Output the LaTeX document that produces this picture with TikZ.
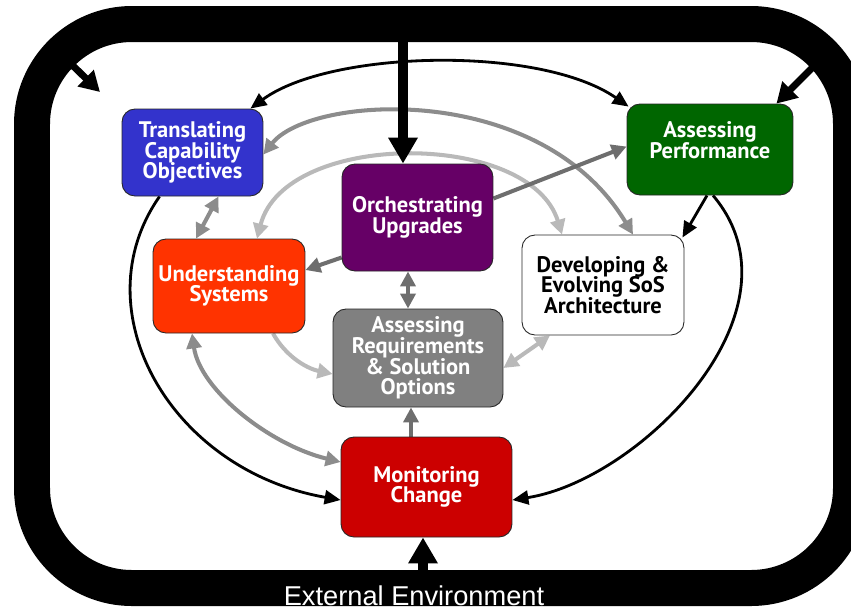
\documentclass[tikz,border=0pt]{standalone}
\usepackage{fontspec}
\setmainfont{PT Sans}
\newfontfamily\envfont{Liberation Sans}
\usetikzlibrary{arrows.meta,calc,backgrounds}

\definecolor{transblue}{RGB}{51,51,204}
\definecolor{perfgreen}{RGB}{0,102,0}
\definecolor{orchpurple}{RGB}{102,0,102}
\definecolor{underred}{RGB}{255,51,0}
\definecolor{assessgray}{RGB}{128,128,128}
\definecolor{monitred}{RGB}{204,0,0}
\definecolor{arrdark}{RGB}{110,110,110}
\definecolor{arrmid}{RGB}{140,140,140}
\definecolor{arrlight}{RGB}{185,185,185}

\newcommand{\stagefont}{\bfseries\fontsize{12.8}{11.7}\selectfont\lineskiplimit=-10pt\relax}

\tikzset{
  stage/.style={draw=black!85, line width=0.5pt, rounded corners=0.26cm, align=center,
    text=white, font=\stagefont, inner sep=2pt},
  thinblk/.style={line width=1.6pt, draw=black},
  grayline/.style={line width=2.3pt, draw=#1},
  fatline/.style={line width=0.19cm, draw=black},
  tbk/.tip={Triangle[length=0.32cm,width=0.28cm]},
  tgr/.tip={Triangle[length=0.3cm,width=0.3cm]},
  tfat/.tip={Triangle[length=0.52cm,width=0.56cm]},
  tcorner/.tip={Triangle[length=0.4cm,width=0.44cm]},
}

\begin{document}
\begin{tikzpicture}[x=0.02cm, y=-0.02cm]
    % \draw[very thin,color=gray] (0,0) grid[step=50] (851,610);
    \useasboundingbox (0,0) rectangle (851,610);
    \node[stage, fill=transblue, minimum width=2.82cm, minimum height=1.74cm] (trans) at (192.5,152.5) {Translating\\Capability\\Objectives};
    \node[stage, fill=perfgreen, minimum width=3.32cm, minimum height=1.82cm, text depth=0.38cm] (perf) at (710,149.5) {Assessing\\Performance};
    \node[stage, fill=orchpurple, minimum width=3.02cm, minimum height=2.14cm] (orch) at (417.5,217.5) {Orchestrating\\Upgrades};
    \node[stage, fill=underred, minimum width=3.04cm, minimum height=1.88cm] (under) at (229,286) {Understanding\\Systems};
    \node[stage, fill=white, text=black, minimum width=3.24cm, minimum height=2cm] (devel) at (603,285) {Developing \&\\Evolving SoS\\Architecture};
    \node[stage, fill=assessgray, minimum width=3.4cm, minimum height=1.96cm] (assess) at (418,358) {Assessing\\Requirements\\\& Solution\\Options};
    \node[stage, fill=monitred, minimum width=3.42cm, minimum height=2cm] (monit) at (426.5,487) {Monitoring\\Change};
    \node[text=white, font=\envfont\fontsize{15.5}{15.5}\selectfont] (env) at (414,596) {External Environment};
    \coordinate (topin) at (403,40);
    \coordinate (botin) at (423,574);
    \coordinate (tlin) at (68,61);
    \coordinate (tlend) at (100,92);
    \coordinate (trin) at (818,62);
    \begin{pgfonlayer}{background}
        \begin{scope}
            \clip (0,0) rectangle (851,610);
            \draw[line width=0.72cm, rounded corners=2cm] (32,24) rectangle (851,588);
        \end{scope}
        % gray flows
        \draw[grayline=arrmid, tgr-tgr] ($(trans.east)+(0,2)$) .. controls (310,95) and (540,80) .. ($(devel.north)+(30,0)$);
        \draw[grayline=arrlight, tgr-tgr] ($(under.north)+(28,0)$) .. controls (285,130) and (530,130) .. ($(devel.north)+(-41,0)$);
        \draw[grayline=arrmid, tgr-tgr] ($(trans.south)+(26,0)$) -- ($(under.north)+(-33,0)$);
        \draw[grayline=arrdark, -tgr] ($(orch.west)+(0,40)$) -- ($(under.east)+(0,-16)$);
        \draw[grayline=arrdark, -tgr] ($(orch.east)+(0,-19)$) -- ($(perf.west)+(0,-3)$);
        \draw[grayline=arrdark, tgr-tgr] ($(orch.south)+(-9.5,0)$) -- ($(assess.north)+(-10,0)$);
        \draw[grayline=arrdark, -tgr] ($(monit.north)+(-15.5,0)$) -- ($(assess.south)+(-7,0)$);
        \draw[grayline=arrlight, -tgr] ($(under.south)+(44,0)$) .. controls (285,355) and (305,368) .. ($(assess.west)+(0,16)$);
        \draw[grayline=arrlight, tgr-tgr] ($(devel.south)+(-53,0)$) -- ($(assess.east)+(0,10)$);
        \draw[grayline=arrmid, tgr-tgr] ($(under.south)+(-37,0)$) .. controls (200,390) and (270,445) .. ($(monit.west)+(0,-25)$);
        % black loop
        \draw[thinblk, tbk-tbk] ($(trans.north east)+(-13,0)$) .. controls (330,50) and (540,45) .. ($(perf.north west)+(2,3)$);
        \draw[thinblk, -tbk] ($(trans.south west)+(38,0)$) .. controls (80,310) and (170,470) .. ($(monit.west)+(0,13)$);
        \draw[thinblk, -tbk] ($(perf.south)+(3,0)$) .. controls (810,310) and (640,480) .. ($(monit.east)+(0,13)$);
        \draw[thinblk, -tbk] ($(perf.south)+(-3,0)$) -- ($(devel.north east)+(-2,3)$);
        % from the environment
        \draw[fatline, -tfat] (topin) -- ($(orch.north)+(-14.5,0)$);
        \draw[fatline, -tfat] (botin) -- ($(monit.south)+(-3.5,0)$);
        \draw[line width=0.14cm, -tcorner] (tlin) -- (tlend);
        \draw[line width=0.14cm, -tcorner] (trin) -- ($(perf.north east)+(-17,0)$);
    \end{pgfonlayer}
\end{tikzpicture}
\end{document}
